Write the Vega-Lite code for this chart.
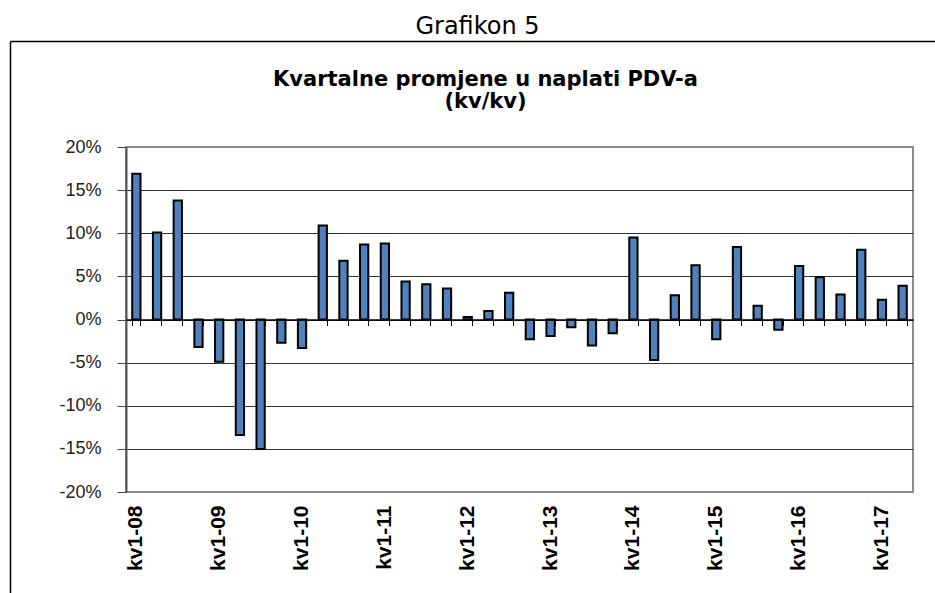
{
  "$schema": "https://vega.github.io/schema/vega-lite/v6.json",
  "width": 787,
  "height": 345,
  "autosize": {"type": "none"},
  "padding": {"left": 126, "top": 147, "right": 22, "bottom": 101},
  "background": "white",
  "config": {
    "view": {"stroke": "#8c8c8c", "strokeWidth": 2},
    "axis": {"labelColor": "#000", "titleColor": "#000"}
  },
  "title": {
    "text": "Grafikon 5",
    "font": "DejaVu Sans",
    "fontSize": 24,
    "fontWeight": "normal",
    "color": "#000",
    "anchor": "middle",
    "dx": -42,
    "offset": 2
  },
  "data": {
    "values": [
      {"q": "kv1-08", "v": 16.9}, {"q": "kv2-08", "v": 10.1}, {"q": "kv3-08", "v": 13.8}, {"q": "kv4-08", "v": -3.2},
      {"q": "kv1-09", "v": -4.9}, {"q": "kv2-09", "v": -13.4}, {"q": "kv3-09", "v": -15.0}, {"q": "kv4-09", "v": -2.7},
      {"q": "kv1-10", "v": -3.3}, {"q": "kv2-10", "v": 10.9}, {"q": "kv3-10", "v": 6.8}, {"q": "kv4-10", "v": 8.7},
      {"q": "kv1-11", "v": 8.8}, {"q": "kv2-11", "v": 4.4}, {"q": "kv3-11", "v": 4.1}, {"q": "kv4-11", "v": 3.6},
      {"q": "kv1-12", "v": 0.3}, {"q": "kv2-12", "v": 1.0}, {"q": "kv3-12", "v": 3.1}, {"q": "kv4-12", "v": -2.3},
      {"q": "kv1-13", "v": -1.9}, {"q": "kv2-13", "v": -0.9}, {"q": "kv3-13", "v": -3.0}, {"q": "kv4-13", "v": -1.6},
      {"q": "kv1-14", "v": 9.5}, {"q": "kv2-14", "v": -4.7}, {"q": "kv3-14", "v": 2.8}, {"q": "kv4-14", "v": 6.3},
      {"q": "kv1-15", "v": -2.3}, {"q": "kv2-15", "v": 8.4}, {"q": "kv3-15", "v": 1.6}, {"q": "kv4-15", "v": -1.2},
      {"q": "kv1-16", "v": 6.2}, {"q": "kv2-16", "v": 4.9}, {"q": "kv3-16", "v": 2.9}, {"q": "kv4-16", "v": 8.1},
      {"q": "kv1-17", "v": 2.3}, {"q": "kv2-17", "v": 3.9}
    ]
  },
  "resolve": {
    "scale": {"x": "independent", "y": "independent"},
    "axis": {"x": "independent", "y": "independent"}
  },
  "layer": [
    {
      "mark": {"type": "bar", "fill": "#4f81bd", "stroke": "#000", "strokeWidth": 2},
      "encoding": {
        "x": {
          "field": "q", "type": "nominal", "sort": null,
          "scale": {"paddingInner": 0.6, "paddingOuter": 0.3},
          "axis": {
            "orient": "bottom",
            "title": null,
            "values": ["kv1-08", "kv1-09", "kv1-10", "kv1-11", "kv1-12", "kv1-13", "kv1-14", "kv1-15", "kv1-16", "kv1-17"],
            "labelAngle": -90,
            "labelFont": "Liberation Sans",
            "labelFontSize": 21,
            "labelFontWeight": "bold",
            "labelPadding": 13,
            "ticks": false,
            "domain": false
          }
        },
        "y": {
          "field": "v", "type": "quantitative",
          "scale": {"domain": [-20, 20], "nice": false},
          "axis": {
            "orient": "left",
            "values": [-20, -15, -10, -5, 0, 5, 10, 15, 20],
            "labelExpr": "datum.value + '%'",
            "labelFont": "Liberation Sans",
            "labelFontSize": 18,
            "labelColor": "#222",
            "labelPadding": 16,
            "tickSize": 9,
            "tickColor": "#444",
            "domainColor": "#555",
            "domainWidth": 2,
            "grid": true,
            "gridColor": "#333",
            "gridWidth": 1,
            "gridOpacity": {"condition": {"test": "abs(datum.value) >= 20", "value": 0}, "value": 1},
            "title": ["Kvartalne promjene u naplati PDV-a", "(kv/kv)"],
            "titleAngle": 0,
            "titleX": 359,
            "titleY": -62,
            "titleAlign": "center",
            "titleBaseline": "alphabetic",
            "titleLineHeight": 22,
            "titleFont": "DejaVu Sans",
            "titleFontSize": 21,
            "titleFontWeight": "bold"
          }
        }
      }
    },
    {
      "mark": {"type": "bar", "opacity": 0},
      "encoding": {
        "x": {
          "field": "q", "type": "nominal", "sort": null,
          "scale": {"paddingInner": 0.6, "paddingOuter": 0.3},
          "axis": {
            "orient": "top",
            "offset": -172.5,
            "title": null,
            "labels": false,
            "grid": false,
            "domainColor": "#000",
            "domainWidth": 1.5,
            "ticks": true,
            "tickBand": "extent",
            "tickExtra": true,
            "tickSize": -6,
            "tickColor": "#000",
            "tickWidth": 1,
            "zindex": 1
          }
        }
      }
    },
    {
      "mark": {"type": "point", "opacity": 0},
      "encoding": {
        "y": {
          "datum": 0, "type": "quantitative",
          "scale": {"domain": [0, 1], "range": [446, -106]},
          "axis": {
            "orient": "left",
            "offset": 116,
            "title": null,
            "labels": false,
            "ticks": false,
            "grid": false,
            "domainColor": "#000",
            "domainWidth": 1.5
          }
        }
      }
    },
    {
      "mark": {"type": "point", "opacity": 0},
      "encoding": {
        "x": {
          "datum": 0, "type": "quantitative",
          "scale": {"domain": [0, 1], "range": [-116, 809]},
          "axis": {
            "orient": "top",
            "offset": 106,
            "title": null,
            "labels": false,
            "ticks": false,
            "grid": false,
            "domainColor": "#000",
            "domainWidth": 1.5
          }
        }
      }
    }
  ]
}
